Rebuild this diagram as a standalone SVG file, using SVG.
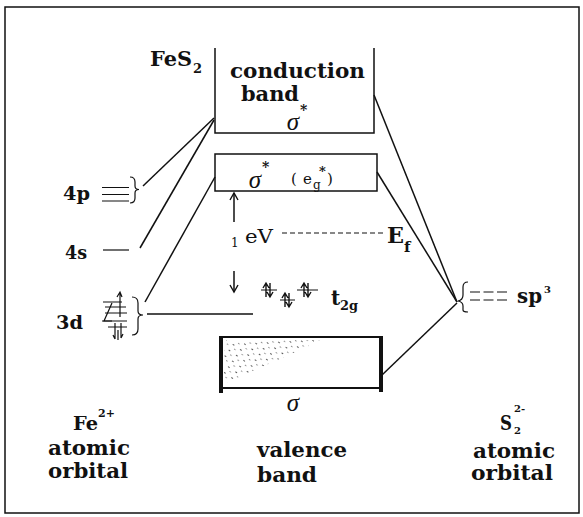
<svg xmlns="http://www.w3.org/2000/svg" width="583" height="517" viewBox="0 0 583 517">
<defs>
<style>
.t{font-family:"DejaVu Serif","Liberation Serif",serif;font-weight:bold;fill:#111}
.r{font-family:"DejaVu Serif","Liberation Serif",serif;fill:#111}
.s{font-family:"Liberation Serif","DejaVu Serif",serif;font-style:italic;fill:#111}
.ln{stroke:#111;stroke-width:1.5;fill:none}
.th{stroke:#111;stroke-width:1.2;fill:none}
</style>
<marker id="ah" markerWidth="10" markerHeight="10" refX="8" refY="5" orient="auto" markerUnits="userSpaceOnUse">
<path d="M1,1 L8,5 L1,9" fill="none" stroke="#111" stroke-width="1.4"/>
</marker>
<pattern id="dots" width="9" height="7" patternUnits="userSpaceOnUse" patternTransform="rotate(35)">
<rect x="1" y="1" width="2" height="1" fill="#333"/>
<rect x="5" y="4" width="1.5" height="1" fill="#666"/>
</pattern>
</defs>
<rect id="frame" x="5" y="7" width="574" height="506" fill="none" stroke="#111" stroke-width="1.5"/>

<g id="connectors" class="ln">
<line x1="143" y1="186" x2="214" y2="118"/>
<line x1="140" y1="248" x2="214" y2="120"/>
<line x1="145" y1="302" x2="215" y2="177"/>
<line x1="147" y1="314" x2="253" y2="314"/>
<line x1="374" y1="95" x2="457" y2="302"/>
<line x1="377" y1="172" x2="457" y2="302"/>
<line x1="382" y1="375" x2="457" y2="303"/>
<line x1="234" y1="222" x2="234" y2="193" marker-end="url(#ah)"/>
<line x1="234" y1="271" x2="234" y2="292" marker-end="url(#ah)"/>
<line x1="282" y1="233" x2="385" y2="233" stroke-dasharray="5,3" stroke-width="1.2"/>
</g>

<g id="fes2-label">
<text class="t" x="150" y="66" font-size="20" textLength="42" lengthAdjust="spacingAndGlyphs">FeS</text>
<text class="t" x="193" y="73" font-size="13">2</text>
</g>

<g id="conduction-band">
<path class="ln" d="M215,48 V133 H374 V48"/>
<text class="t" x="230" y="78" font-size="21" textLength="135" lengthAdjust="spacingAndGlyphs">conduction</text>
<text class="t" x="241" y="101" font-size="21" textLength="58" lengthAdjust="spacingAndGlyphs">band</text>
<text class="t" x="300" y="115" font-size="14">*</text>
<text class="s" x="293" y="130" font-size="25" text-anchor="middle">σ</text>
</g>

<g id="sigma-eg-band">
<rect class="ln" x="215" y="154" width="162" height="37"/>
<text class="s" x="255" y="188" font-size="25" text-anchor="middle">σ</text>
<text class="t" x="262" y="172" font-size="14">*</text>
<text class="r" x="291" y="184" font-size="15">(</text>
<text class="r" x="303" y="184" font-size="15">e</text>
<text class="r" x="313" y="189" font-size="12">g</text>
<text class="t" x="319" y="176" font-size="13">*</text>
<text class="r" x="327" y="184" font-size="15">)</text>
</g>

<g id="fe-4p">
<text class="t" x="63" y="200" font-size="19" textLength="27" lengthAdjust="spacingAndGlyphs">4p</text>
<path class="th" d="M102,187.5 H129 M102,194.5 H129 M102,201 H129"/>
<path class="th" d="M130,177 Q135,177 135,182 L135,186 Q135,189.5 139,189.5 Q135,189.5 135,193 L135,198 Q135,203 130,203"/>
</g>

<g id="fe-4s">
<text class="t" x="65" y="259" font-size="19" textLength="22" lengthAdjust="spacingAndGlyphs">4s</text>
<line class="th" x1="103" y1="250" x2="129" y2="250"/>
</g>

<g id="fe-3d">
<text class="t" x="56" y="329" font-size="19" textLength="27" lengthAdjust="spacingAndGlyphs">3d</text>
<path class="th" d="M103,302 H122 M105,307 H126 M105,313 H127 M102,321 H127 M108,327 H127"/>
<path class="th" d="M120,317 V292 M117,297 L120,292 L122,297"/>
<path class="th" d="M112,303 L104,321 L112,321"/>
<path class="th" d="M115,323 V339 M118,330 V340 M121,323 V338 M113,335 L115,339 M121,338 L123,334"/>
<path class="th" d="M132,297 Q138,297 138,303 L138,311 Q138,315 143,315 Q138,315 138,319 L138,329 Q138,335 132,335"/>
</g>

<g id="ev-gap">
<text class="r" x="231" y="247" font-size="12">1</text>
<text class="r" x="245" y="243" font-size="18" textLength="28" lengthAdjust="spacingAndGlyphs">eV</text>
</g>

<g id="fermi-level">
<text class="t" x="387" y="243" font-size="22" textLength="17" lengthAdjust="spacingAndGlyphs">E</text>
<text class="t" x="404" y="252" font-size="15">f</text>
</g>

<g id="t2g">
<path class="th" d="M261,290 H277 M280,300 H295 M297,290 H318"/>
<path d="M266,297 V283 M263,288 L266,283 L269,288 M270,283 V297 M267,292 L270,297 L273,292" stroke="#111" stroke-width="1.4" fill="none"/>
<path d="M285,307 V293 M282,298 L285,293 L288,298 M289,293 V307 M286,302 L289,307 L292,302" stroke="#111" stroke-width="1.4" fill="none"/>
<path d="M304,297 V283 M301,288 L304,283 L307,288 M308,283 V297 M305,292 L308,297 L311,292" stroke="#111" stroke-width="1.4" fill="none"/>
<text class="t" x="331" y="305" font-size="20">t</text>
<text class="t" x="340" y="310" font-size="13" textLength="18" lengthAdjust="spacingAndGlyphs">2g</text>
</g>

<g id="valence-band">
<polygon points="224,340 322,340 224,384" fill="url(#dots)" opacity="0.8"/>
<path d="M220,337 H382 M220,388 H382" stroke="#111" stroke-width="2" fill="none"/>
<path d="M221,336 V393 M381,336 V392" stroke="#111" stroke-width="4" fill="none"/>
<text class="s" x="293" y="411" font-size="25" text-anchor="middle">σ</text>
</g>

<g id="s2-sp3">
<path class="th" d="M468,282 Q463,282 463,287 L463,295 Q463,300 458,301 Q463,302 463,306 L463,310 Q463,312 468,312"/>
<path class="th" d="M470,292 H508 M470,300 H508" stroke-dasharray="10,3.5"/>
<text class="t" x="517" y="303" font-size="21" textLength="25" lengthAdjust="spacingAndGlyphs">sp</text>
<text class="t" x="544" y="293" font-size="10">3</text>
</g>

<g id="fe-label">
<text class="t" x="73" y="430" font-size="19" textLength="25" lengthAdjust="spacingAndGlyphs">Fe</text>
<text class="t" x="98" y="417" font-size="11">2+</text>
<text class="t" x="48" y="455" font-size="20" textLength="82" lengthAdjust="spacingAndGlyphs">atomic</text>
<text class="t" x="48" y="478" font-size="20" textLength="80" lengthAdjust="spacingAndGlyphs">orbital</text>
</g>

<g id="valence-label">
<text class="t" x="257" y="457" font-size="20" textLength="90" lengthAdjust="spacingAndGlyphs">valence</text>
<text class="t" x="257" y="482" font-size="20" textLength="60" lengthAdjust="spacingAndGlyphs">band</text>
</g>

<g id="s2-label">
<text class="t" x="500" y="430" font-size="20" textLength="12" lengthAdjust="spacingAndGlyphs">S</text>
<text class="t" x="514" y="434" font-size="10">2</text>
<text class="t" x="514" y="412" font-size="10">2-</text>
<text class="t" x="473" y="458" font-size="20" textLength="82" lengthAdjust="spacingAndGlyphs">atomic</text>
<text class="t" x="471" y="480" font-size="20" textLength="82" lengthAdjust="spacingAndGlyphs">orbital</text>
</g>
</svg>
